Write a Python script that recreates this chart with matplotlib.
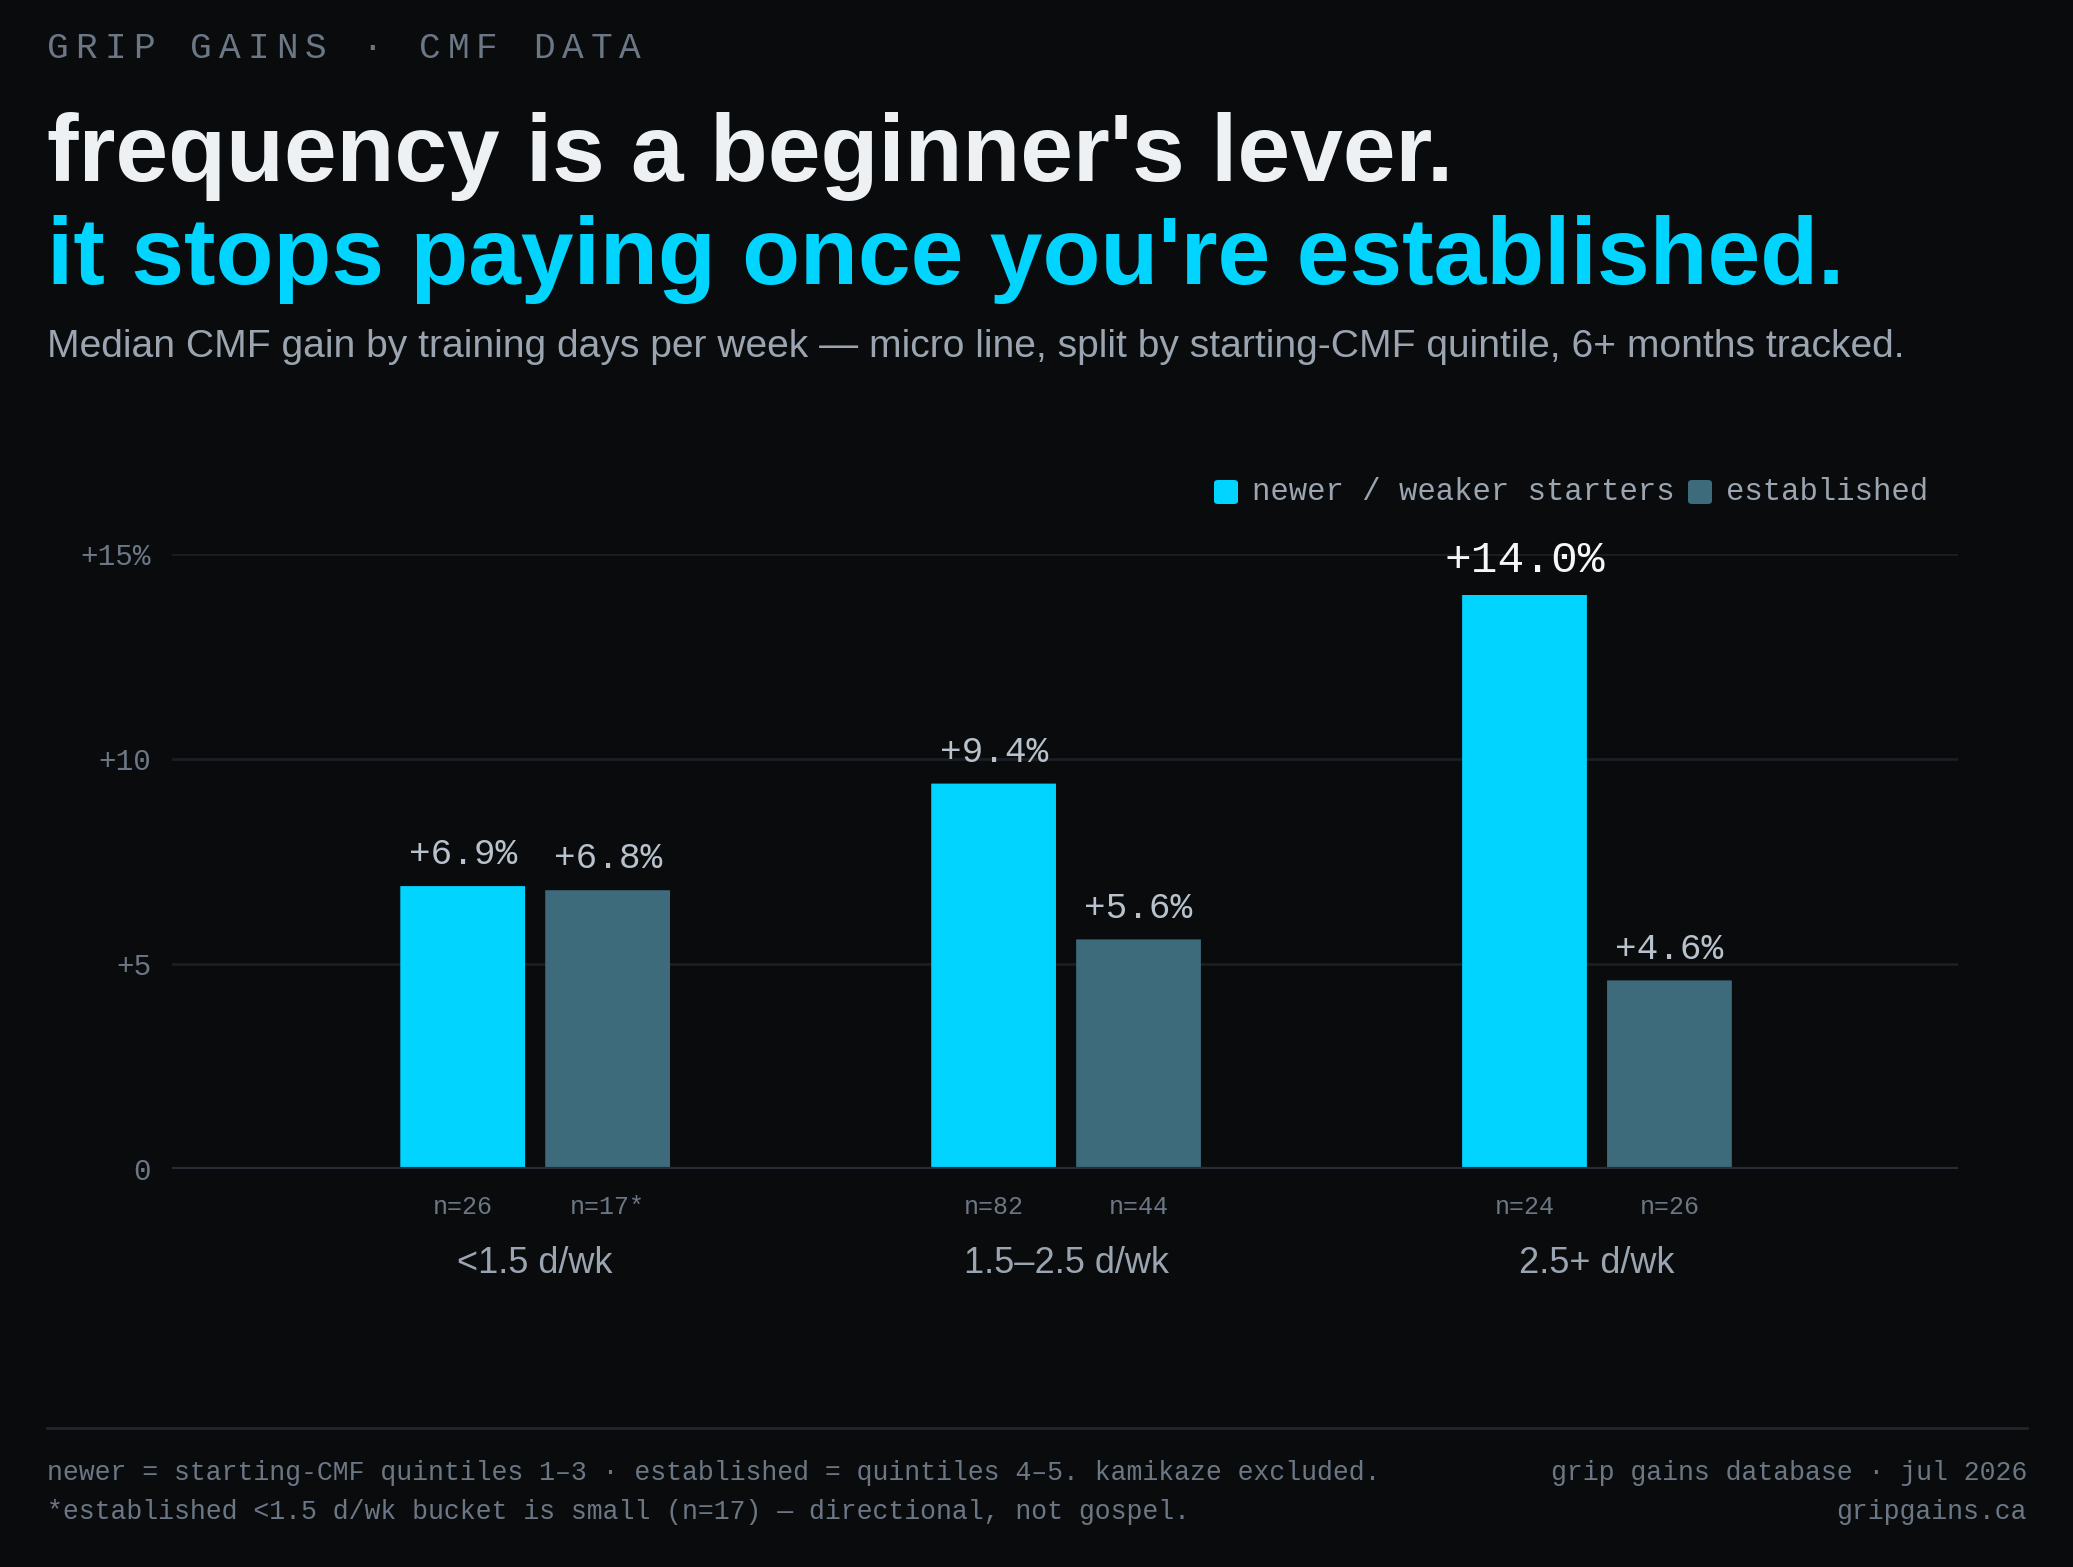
import numpy as np
import matplotlib.pyplot as plt
from matplotlib.lines import Line2D
from matplotlib.patches import FancyBboxPatch

# data
groups = ['<1.5 d/wk', '1.5–2.5 d/wk', '2.5+ d/wk']
newer = [6.9, 9.4, 14.0]
established = [6.8, 5.6, 4.6]
n_newer = ['n=26', 'n=82', 'n=24']
n_established = ['n=17*', 'n=44', 'n=26']
yticks = [0, 5, 10, 15]
ytick_labels = ['0', '+5', '+10', '+15%']

BG = '#0a0b0c'
CYAN = '#00d4ff'
SLATE = '#3d6b7b'
MUTED = '#6b7785'
SOFT = '#9aa5b1'
MONO = 'Liberation Mono'
SANS = 'Liberation Sans'

W, H = 2073, 1567
fig = plt.figure(figsize=(W / 100, H / 100), dpi=100, facecolor=BG)


def fx(x):
    return x / W


def fy(y):
    return 1 - y / H


def fit(t, width_px):
    r = fig.canvas.get_renderer()
    w = t.get_window_extent(r).width
    t.set_fontsize(t.get_fontsize() * width_px / w)


# eyebrow, letter-spaced
eyebrow = 'GRIP GAINS · CMF DATA'
for i, ch in enumerate(eyebrow):
    fig.text(fx(47 + i * 28.6), fy(48), ch, fontsize=26, family=MONO,
             color=MUTED, va='center', ha='left')

t1 = fig.text(fx(47), fy(181), "frequency is a beginner's lever.", fontsize=60,
              family=SANS, weight='bold', color='#eef1f4', va='baseline')
t2 = fig.text(fx(47), fy(284), "it stops paying once you're established.", fontsize=60,
              family=SANS, weight='bold', color=CYAN, va='baseline')
t3 = fig.text(fx(47), fy(357),
              'Median CMF gain by training days per week — micro line, split by '
              'starting-CMF quintile, 6+ months tracked.',
              fontsize=24, family=SANS, color=SOFT, va='baseline')
fit(t1, 1407)
fit(t2, 1798)
fit(t3, 1858)

# legend
for x0, label, col in [(1214, 'newer / weaker starters', CYAN), (1688, 'established', SLATE)]:
    fig.patches.append(FancyBboxPatch((fx(x0), fy(504)), 24 / W, 24 / H,
                                      boxstyle='round,pad=0,rounding_size=0.002',
                                      transform=fig.transFigure, facecolor=col,
                                      edgecolor='none'))
    fig.text(fx(x0 + 38), fy(492), label, fontsize=22.1, family=MONO, color=SOFT,
             va='center', ha='left')

# chart
ax = fig.add_axes([fx(172), fy(1169), (1958 - 172) / W, (1169 - 554) / H])
ax.set_facecolor(BG)
x = np.arange(len(groups))
bw = 0.235
off = 0.1365
bars = list(ax.bar(x - off, newer, bw, color=CYAN, zorder=3)) + \
    list(ax.bar(x + off, established, bw, color=SLATE, zorder=3))
# rounded tops
for b in bars:
    b.set_visible(False)
    ax.add_patch(FancyBboxPatch((b.get_x(), b.get_y()), b.get_width(), b.get_height(),
                                boxstyle='round,pad=0,rounding_size=0.008',
                                mutation_aspect=0.095, facecolor=b.get_facecolor(),
                                edgecolor='none', zorder=3))
ax.set_xlim(-0.684, 2.68)
ax.set_ylim(0, 15)
ax.set_yticks(yticks)
ax.set_yticklabels(ytick_labels, family=MONO, fontsize=21.2, color=MUTED)
ax.tick_params(axis='y', length=0, pad=15)
ax.set_xticks([])
for s in ax.spines.values():
    s.set_visible(False)
for yv in yticks[1:]:
    ax.axhline(yv, color='#1a1f24', lw=2, zorder=1)
ax.axhline(0, color='#262d34', lw=3, zorder=4)

for i in range(len(groups)):
    big = newer[i] == max(newer)
    ax.annotate(f'+{newer[i]:.1f}%', (x[i] - off, newer[i]), xytext=(0, 10),
                textcoords='offset points', ha='center', va='bottom', family=MONO,
                fontsize=32 if big else 26, color='#f4f6f8' if big else '#b8c2cc')
    ax.annotate(f'+{established[i]:.1f}%', (x[i] + off, established[i]), xytext=(0, 10),
                textcoords='offset points', ha='center', va='bottom', family=MONO,
                fontsize=26, color='#b8c2cc')
    ax.annotate(n_newer[i], (x[i] - off, 0), xytext=(0, -27), textcoords='offset points',
                ha='center', va='center', family=MONO, fontsize=18, color=MUTED)
    ax.annotate(n_established[i], (x[i] + off, 0), xytext=(0, -27), textcoords='offset points',
                ha='center', va='center', family=MONO, fontsize=18, color=MUTED)
    ax.annotate(groups[i], (x[i], 0), xytext=(0, -68), textcoords='offset points',
                ha='center', va='center', family=SANS, fontsize=26, color=SOFT)

# footer
fig.add_artist(Line2D([fx(47), fx(2027)], [fy(1428), fy(1428)], transform=fig.transFigure,
                      color='#1f262d', lw=2))
foot_l = ['newer = starting-CMF quintiles 1–3 · established = quintiles 4–5. kamikaze excluded.',
          '*established <1.5 d/wk bucket is small (n=17) — directional, not gospel.']
foot_r = ['grip gains database · jul 2026', 'gripgains.ca']
for j, yy in enumerate([1473, 1512]):
    fig.text(fx(47), fy(yy), foot_l[j], family=MONO, fontsize=19.1, color=MUTED,
             va='center', ha='left')
    fig.text(fx(2027), fy(yy), foot_r[j], family=MONO, fontsize=19.1, color=MUTED,
             va='center', ha='right')

fig.savefig('out.png', dpi=100, facecolor=BG)
